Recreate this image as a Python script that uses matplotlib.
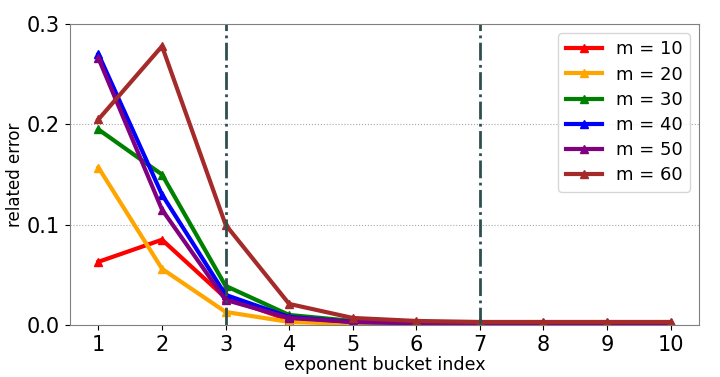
import matplotlib
matplotlib.use("Agg")
import matplotlib.pyplot as plt

# ---------------------------------------------------------------------------
# Data
# ---------------------------------------------------------------------------
bucket_index = [1, 2, 3, 4, 5, 6, 7, 8, 9, 10]
m_values = [10, 20, 30, 40, 50, 60]
colors = ["red", "orange", "green", "blue", "purple", "brown"]

err_m10 = [0.063, 0.085, 0.027, 0.005, 0.002, 0.001, 0.001, 0.001, 0.001, 0.001]
err_m20 = [0.157, 0.056, 0.013, 0.003, 0.001, 0.001, 0.001, 0.001, 0.001, 0.001]
err_m30 = [0.195, 0.150, 0.039, 0.010, 0.004, 0.002, 0.002, 0.002, 0.002, 0.002]
err_m40 = [0.270, 0.130, 0.030, 0.008, 0.003, 0.002, 0.001, 0.001, 0.001, 0.001]
err_m50 = [0.266, 0.115, 0.025, 0.007, 0.003, 0.002, 0.002, 0.002, 0.002, 0.002]
err_m60 = [0.205, 0.278, 0.100, 0.021, 0.007, 0.004, 0.003, 0.003, 0.003, 0.003]

vlines_at = [3, 7]

# ---------------------------------------------------------------------------
# Plot
# ---------------------------------------------------------------------------
series = [err_m10, err_m20, err_m30, err_m40, err_m50, err_m60]

fig, ax = plt.subplots(figsize=(7.2, 3.77), dpi=100)
for m, c, ys in zip(m_values, colors, series):
    ax.plot(bucket_index, ys, color=c, linewidth=3, marker="^",
            markersize=6, label=f"m = {m}")

for xv in vlines_at:
    ax.axvline(xv, color="darkslategray", linestyle="-.", linewidth=2)

ax.set_ylim(0, 0.3)
ax.set_yticks([0.0, 0.1, 0.2, 0.3])
ax.set_xticks(bucket_index)
ax.yaxis.grid(True, linestyle=":", color="gray", alpha=0.7)
ax.tick_params(labelsize=15)
for sp in ax.spines.values():
    sp.set_color("gray")

ax.set_xlabel("exponent bucket index", fontsize=12.6, labelpad=1)
ax.set_ylabel("related error", fontsize=12, labelpad=2)
ax.legend(fontsize=13, loc="upper right", handlelength=2, labelspacing=0.4)

plt.subplots_adjust(left=0.097, right=0.971, top=0.936, bottom=0.138)
plt.savefig("out.png", dpi=100)
plt.close()
